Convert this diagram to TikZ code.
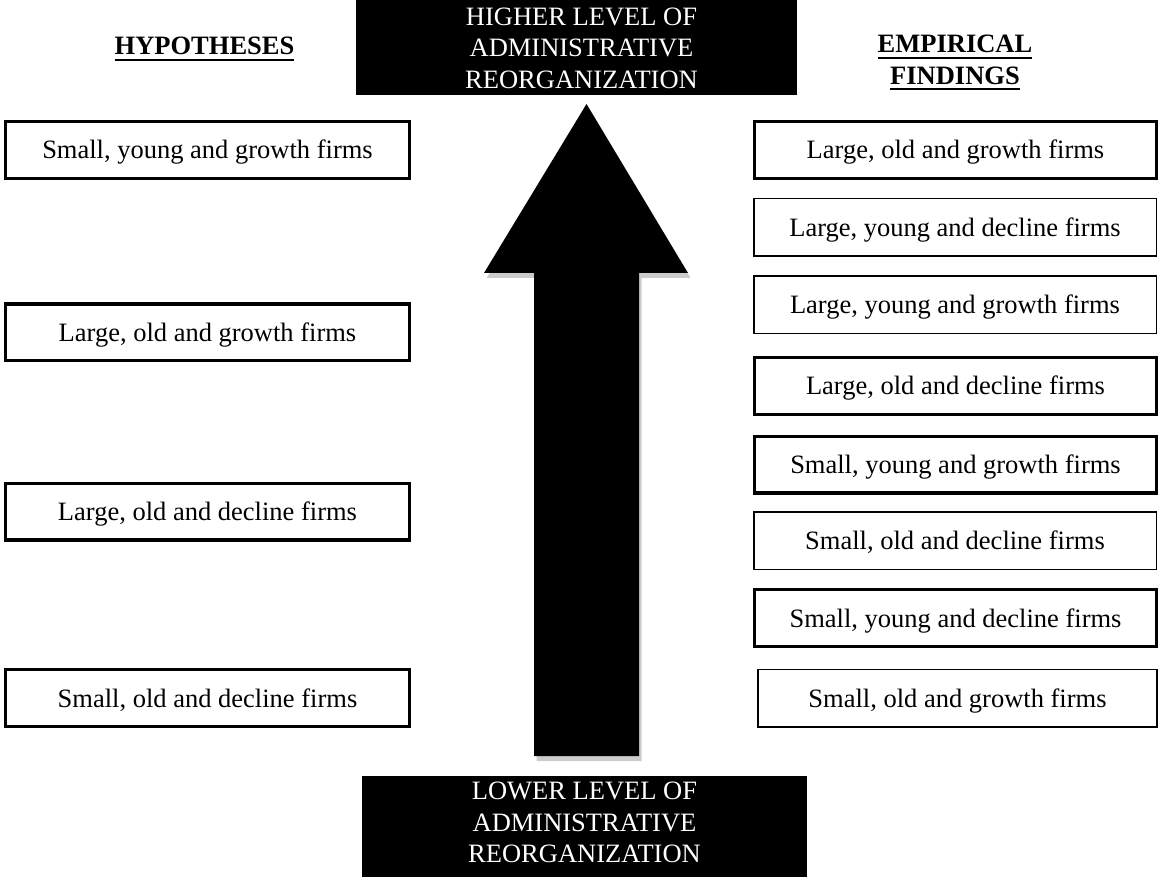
\documentclass[tikz,border=0pt]{standalone}
\usepackage{fontspec}
\setmainfont{Liberation Serif}
\newcommand\hdul[1]{\setbox0=\hbox{#1}\rlap{\rule[-6pt]{\wd0}{2.2pt}}\box0}
\begin{document}
\begin{tikzpicture}[x=1pt,y=-1pt,
  font=\fontsize{26.5}{31.5}\selectfont,
  firmbox/.style={draw, fill=white, inner sep=0pt, text=black, text depth=0pt, text height=18pt},
  thickbox/.style={firmbox, line width=3.2pt, minimum height=56.8pt},
  thinbox/.style={firmbox, line width=1.5pt, minimum height=57.5pt},
  blackbox/.style={fill=black, inner sep=0pt},
  whitetext/.style={text=white, align=center, inner sep=0pt},
  header/.style={inner sep=0pt, align=center},
  sh/.style={shift={(2.5,5)}}]
\useasboundingbox (0,0) rectangle (1160,877);

% black level boxes
\node[blackbox, minimum width=441pt, minimum height=95pt] (top) at (576.5,47.5) {};
\node[whitetext] (toptext) at (581.5,48) {HIGHER LEVEL OF\\ADMINISTRATIVE\\REORGANIZATION};
\node[blackbox, minimum width=445pt, minimum height=101pt] (bot) at (584.5,826.5) {};
\node[whitetext] (bottext) at (584.5,822.5) {LOWER LEVEL OF\\ADMINISTRATIVE\\REORGANIZATION};

% big arrow with shadow
\coordinate (apex) at (586.5,104);
\coordinate (hr) at (688,273);
\coordinate (sr) at (639,273);
\coordinate (sbr) at (639,756);
\coordinate (sbl) at (534,756);
\coordinate (sl) at (534,273);
\coordinate (hl) at (484,273);
\fill[gray!40] ([sh]apex) -- ([sh]hr) -- ([sh]sr) -- ([sh]sbr) -- ([sh]sbl) -- ([sh]sl) -- ([sh]hl) -- cycle;
\fill[black] (apex) -- (hr) -- (sr) -- (sbr) -- (sbl) -- (sl) -- (hl) -- cycle;

% headers
\node[header, anchor=base] (hyp) at (204.5,55) {\hdul{\textbf{HYPOTHESES}}};
\node[header, anchor=base] (emp) at (955,84.5) {\hdul{\textbf{EMPIRICAL}}\\\hdul{\textbf{FINDINGS}}};

% hypotheses
\node[thickbox, minimum width=403.8pt] (h1) at (207.5,150) {Small, young and growth firms};
\node[thickbox, minimum width=403.8pt] (h2) at (207.5,332.5) {Large, old and growth firms};
\node[thickbox, minimum width=403.8pt] (h3) at (207.5,511.5) {Large, old and decline firms};
\node[thickbox, minimum width=403.8pt] (h4) at (207.5,698) {Small, old and decline firms};

% empirical findings
\node[thickbox, minimum width=401.8pt] (e1) at (955.5,150) {Large, old and growth firms};
\node[thinbox, minimum width=402.5pt] (e2) at (955,227.5) {Large, young and decline firms};
\node[thinbox, minimum width=402.5pt] (e3) at (955,305) {Large, young and growth firms};
\node[thickbox, minimum width=401.8pt] (e4) at (955.5,386) {Large, old and decline firms};
\node[thickbox, minimum width=401.8pt] (e5) at (955.5,464.5) {Small, young and growth firms};
\node[thinbox, minimum width=402.5pt] (e6) at (955,540.5) {Small, old and decline firms};
\node[thickbox, minimum width=401.8pt] (e7) at (955.5,618) {Small, young and decline firms};
\node[thinbox, minimum width=399pt] (e8) at (957.5,698) {Small, old and growth firms};
\end{tikzpicture}
\end{document}
